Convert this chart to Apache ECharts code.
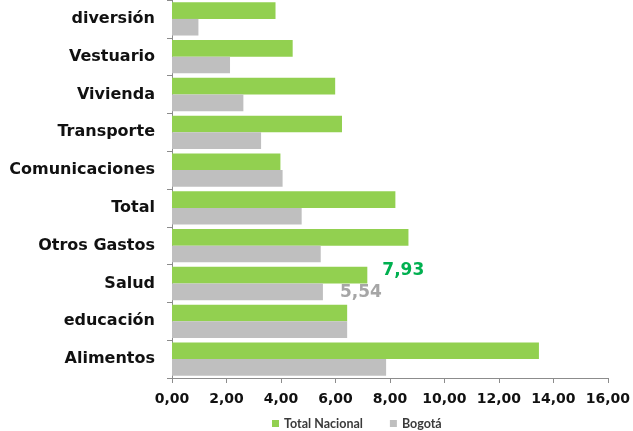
<!DOCTYPE html>
<html><head><meta charset="utf-8">
<script src="https://cdn.jsdelivr.net/npm/echarts@6/dist/echarts.min.js"></script>
<style>html,body{margin:0;padding:0;background:#fff}#c{width:633px;height:431px}</style>
</head><body><div id="c"></div>
<script>
const categories = ['Alimentos','educación','Salud','Otros Gastos','Total','Comunicaciones','Transporte','Vivienda','Vestuario','diversión'];
const totalNacional = [13.47, 6.43, 7.17, 8.68, 8.20, 3.98, 6.24, 5.99, 4.43, 3.80];
const bogota = [7.86, 6.43, 5.54, 5.46, 4.76, 4.06, 3.27, 2.62, 2.13, 0.97];
const labelCategory = 'Salud';
const labelTotalNacional = '7,93';
const labelBogota = '5,54';
const xTicks = [0, 2, 4, 6, 8, 10, 12, 14, 16];

const font = '"DejaVu Sans", sans-serif';
const chart = echarts.init(document.getElementById('c'), null, {renderer: 'canvas'});
const lblIdx = categories.indexOf(labelCategory);
function withLabel(arr, text, color, offset) {
  return arr.map((v, i) => i === lblIdx ? {
    value: v,
    label: {show: true, position: 'right', formatter: text, color: color, fontFamily: font,
      fontWeight: 'bold', fontSize: 17, offset: offset}
  } : v);
}
chart.setOption({
  animation: false,
  grid: {left: 172, right: 23, top: -2, bottom: 53, containLabel: false},
  legend: {
    left: 267, top: 412, itemWidth: 7, itemHeight: 7, itemGap: 27,
    icon: 'rect',
    textStyle: {fontFamily: 'Lato, sans-serif', fontSize: 12.5, fontWeight: 'bold', color: '#3a3a3a'},
    data: ['Total Nacional', 'Bogotá']
  },
  xAxis: {
    type: 'value', min: xTicks[0], max: xTicks[xTicks.length - 1], interval: 2,
    axisLine: {show: true, lineStyle: {color: '#8c8c8c', width: 1}},
    axisTick: {show: true, length: 5, lineStyle: {color: '#8c8c8c'}},
    splitLine: {show: false},
    axisLabel: {fontFamily: font, fontSize: 14, fontWeight: 'bold', color: '#111', margin: 14,
      formatter: v => v.toFixed(2).replace('.', ',')}
  },
  yAxis: {
    type: 'category', data: categories,
    axisLine: {show: true, lineStyle: {color: '#8c8c8c', width: 1}},
    axisTick: {show: true, length: 5, lineStyle: {color: '#8c8c8c'}},
    axisLabel: {fontFamily: font, fontSize: 16, fontWeight: 'bold', color: '#111', margin: 17}
  },
  series: [
    {name: 'Total Nacional', type: 'bar', data: withLabel(totalNacional, labelTotalNacional, '#00B050', [10, -5]),
      itemStyle: {color: '#92D050'}, barGap: '0%', barCategoryGap: '12%', z: 2},
    {name: 'Bogotá', type: 'bar', data: withLabel(bogota, labelBogota, '#A6A6A6', [12, 1]),
      itemStyle: {color: '#BFBFBF'}, barGap: '0%', barCategoryGap: '12%', z: 2}
  ]
});
</script></body></html>
